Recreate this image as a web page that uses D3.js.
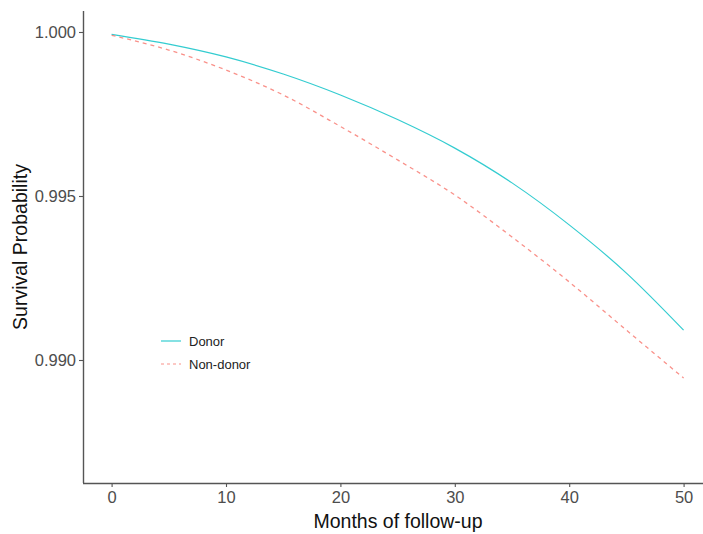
<!DOCTYPE html>
<html><head><meta charset="utf-8">
<script src="https://cdn.jsdelivr.net/npm/d3@7"></script>
<style>body{margin:0;background:#fff}svg{display:block}</style>
</head><body><svg id="c" width="703" height="534"></svg>
<script>
const months = [0, 5, 10, 15, 20, 25, 30, 35, 40, 45, 50];
const donor = [0.99993, 0.99963, 0.99924, 0.99872, 0.99808, 0.99733, 0.99646, 0.99540, 0.99412, 0.99265, 0.99091];
const nonDonor = [0.99990, 0.99945, 0.99884, 0.99808, 0.99712, 0.99610, 0.99503, 0.99375, 0.99238, 0.99091, 0.98945];
const xTicks = [0, 10, 20, 30, 40, 50];
const yTicks = [0.990, 0.995, 1.000];
const seriesNames = ["Donor", "Non-donor"];
const colors = ["#00BFC4", "#F8766D"];
const dashes = [null, "4,4"];

const svg = d3.select("#c");
const L = 83, T = 11, B = 483;
const x = d3.scaleLinear().domain([-2.5, 52.5]).range([L, L + 55 * 11.44]);
const y = d3.scaleLinear().domain([0.98625, 1.00064]).range([B, T]);

const axisColor = "#555";
const font = "Liberation Sans, Arial, sans-serif";
const gx = svg.append("g").attr("transform", `translate(0,${B})`)
  .call(d3.axisBottom(x).tickValues(xTicks).tickSize(4).tickPadding(4).tickSizeOuter(0));
const gy = svg.append("g").attr("transform", `translate(${L},0)`)
  .call(d3.axisLeft(y).tickValues(yTicks).tickFormat(d3.format(".3f")).tickSize(4).tickPadding(3).tickSizeOuter(0));
[gx, gy].forEach(g => {
  g.select(".domain").attr("stroke", axisColor).attr("stroke-width", 1.4);
  g.selectAll(".tick line").attr("stroke", axisColor).attr("stroke-width", 1.1);
  g.selectAll(".tick text").attr("fill", "#4d4d4d").style("font-family", font).style("font-size", "16.5px");
});
gx.select(".domain").attr("d", `M${L},0.5H703`);
gy.select(".domain").attr("d", `M0.5,${T}V${B}`);

const series = [donor, nonDonor];
const line = d3.line().x((d, i) => x(months[i])).y(d => y(d)).curve(d3.curveMonotoneX);
series.forEach((s, k) => {
  svg.append("path").datum(s).attr("d", line).attr("fill", "none")
    .attr("stroke", colors[k]).attr("stroke-width", k ? 1.3 : 1.2).attr("stroke-opacity", 0.8)
    .attr("stroke-dasharray", dashes[k]);
});

svg.append("text").attr("x", 398).attr("y", 528).attr("text-anchor", "middle")
  .style("font-family", font).style("font-size", "19.5px").attr("fill", "#111")
  .text("Months of follow-up");
svg.append("text").attr("transform", "translate(27,247) rotate(-90)").attr("text-anchor", "middle")
  .style("font-family", font).style("font-size", "19.5px").attr("fill", "#111")
  .text("Survival Probability");

const lg = svg.append("g");
seriesNames.forEach((n, k) => {
  const yy = 341 + k * 23;
  lg.append("line").attr("x1", 161).attr("x2", 181).attr("y1", yy).attr("y2", yy)
    .attr("stroke", colors[k]).attr("stroke-width", 1.2).attr("stroke-opacity", 0.8).attr("stroke-dasharray", dashes[k] ? "3,3" : null);
  lg.append("text").attr("x", 189).attr("y", yy + 4.5).text(n)
    .style("font-family", "Liberation Sans Narrow, Liberation Sans, Arial, sans-serif").style("font-size", "13px").attr("fill", "#222");
});
</script></body></html>
